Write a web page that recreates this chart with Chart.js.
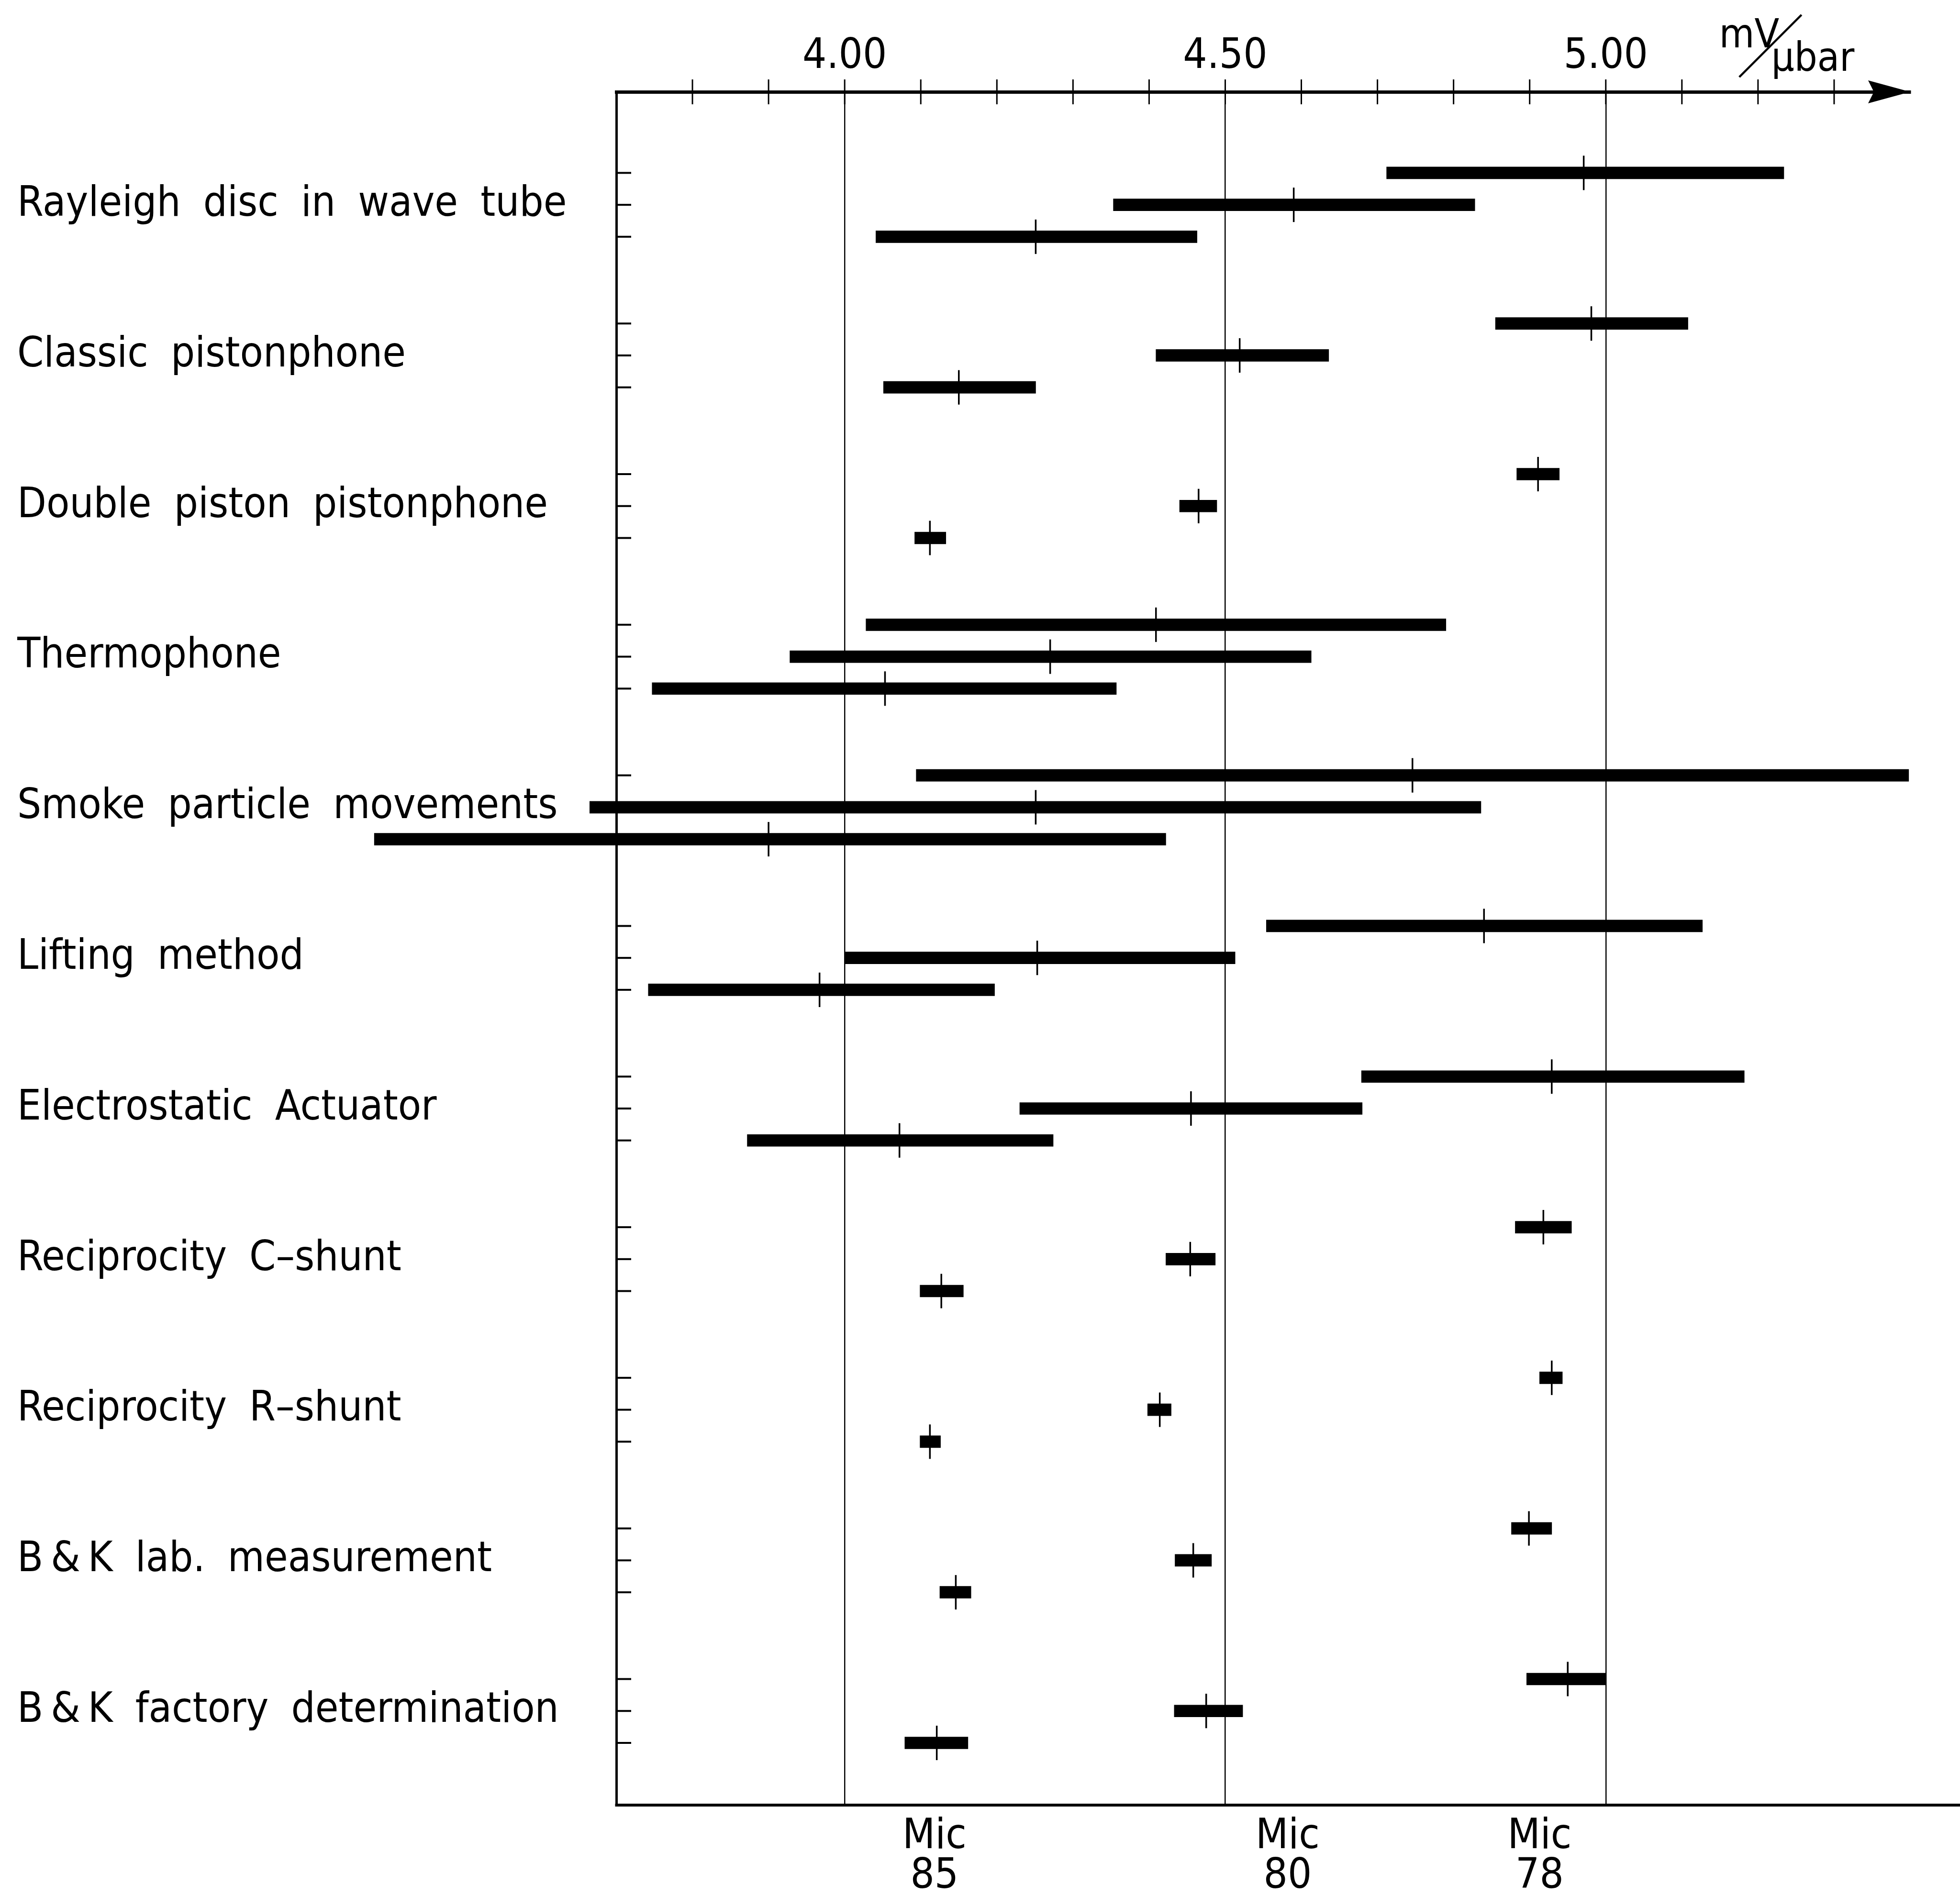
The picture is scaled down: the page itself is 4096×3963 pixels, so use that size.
<!DOCTYPE html>
<html><head><meta charset="utf-8">
<script src="https://cdn.jsdelivr.net/npm/chart.js@4.4.1/dist/chart.umd.min.js"></script>
<style>html,body{margin:0;padding:0;background:#fff;} #wrap{width:4096px;height:3963px;position:relative;}</style>
</head><body><div id="wrap"><canvas id="c"></canvas></div>
<script>
// ---- data ----
const categories = [
  'Rayleigh disc in wave tube',
  'Classic pistonphone',
  'Double piston pistonphone',
  'Thermophone',
  'Smoke particle movements',
  'Lifting method',
  'Electrostatic Actuator',
  'Reciprocity C–shunt',
  'Reciprocity R–shunt',
  'B\u2009&\u2009K lab. measurement',
  'B\u2009&\u2009K factory determination'
];
// Mic 78 (upper row of each method)
const mic78Low   = [4.712, 4.855, 4.883, 4.028, 4.094, 4.554, 4.679, 4.881, 4.913, 4.876, 4.896];
const mic78High  = [5.234, 5.108, 4.939, 4.790, 5.398, 5.127, 5.182, 4.955, 4.943, 4.929, 5.000];
const mic78Value = [4.971, 4.981, 4.911, 4.409, 4.746, 4.840, 4.929, 4.918, 4.929, 4.899, 4.950];
// Mic 80 (middle row)
const mic80Low   = [4.353, 4.409, 4.440, 3.928, 3.665, 4.000, 4.230, 4.422, 4.398, 4.434, 4.433];
const mic80High  = [4.828, 4.636, 4.489, 4.613, 4.836, 4.513, 4.680, 4.487, 4.429, 4.482, 4.523];
const mic80Value = [4.590, 4.519, 4.465, 4.270, 4.251, 4.253, 4.455, 4.454, 4.414, 4.458, 4.475];
// Mic 85 (lower row)
const mic85Low   = [4.041, 4.051, 4.092, 3.747, 3.382, 3.742, 3.872, 4.099, 4.099, 4.125, 4.079];
const mic85High  = [4.463, 4.251, 4.133, 4.357, 4.422, 4.197, 4.274, 4.156, 4.126, 4.166, 4.162];
const mic85Value = [4.251, 4.150, 4.112, 4.053, 3.900, 3.967, 4.072, 4.127, 4.112, 4.146, 4.121];

const micNames   = [['Mic', '85'], ['Mic', '80'], ['Mic', '78']];
const micLabelAt = [4.118, 4.582, 4.913];
const xTickValues = [3.8, 3.9, 4.0, 4.1, 4.2, 4.3, 4.4, 4.5, 4.6, 4.7, 4.8, 4.9, 5.0, 5.1, 5.2, 5.3];
const xTickLabelValues = [4.0, 4.5, 5.0];
const xTickLabels = ['4.00', '4.50', '5.00'];
const unitTop = 'mV';
const unitBottom = 'μbar';

// ---- layout / style ----
const ROW = 0.212;
const FONT = "'DejaVu Sans Condensed', 'DejaVu Sans', sans-serif";
const AREA = {left: 1288, right: 3992, top: 192, bottom: 3773};
const W = 4096, H = 3963;
const PAD_LEFT = 36;

const rowValues = [];
categories.forEach((c, i) => { rowValues.push(i - ROW, i, i + ROW); });

function barData(lo, hi, off) { return categories.map((c, i) => ({y: i + off, x: [lo[i], hi[i]]})); }
function pointData(v, off) { return categories.map((c, i) => ({x: v[i], y: i + off})); }

const barStyle = {type: 'bar', indexAxis: 'y', xAxisID: 'x', yAxisID: 'y', backgroundColor: '#000',
  borderWidth: 0, barThickness: 25, grouped: false, clip: false};
const markStyle = {type: 'scatter', xAxisID: 'x', yAxisID: 'y', pointStyle: 'line', rotation: 90,
  pointRadius: 36, borderWidth: 3.5, borderColor: '#000', backgroundColor: '#000', showLine: false, clip: false};

const isMajor = v => xTickLabelValues.some(t => Math.abs(t - v) < 1e-6);

const decor = {
  id: 'decor',
  beforeDraw(chart) {
    chart.ctx.wordSpacing = '22px';
  },
  afterDraw(chart) {
    const ctx = chart.ctx, xs = chart.scales.x, ys = chart.scales.y, a = chart.chartArea;
    ctx.save();
    ctx.strokeStyle = '#000'; ctx.fillStyle = '#000';
    // top axis tick marks crossing the axis line
    ctx.lineWidth = 3;
    xTickValues.forEach(v => {
      const px = xs.getPixelForValue(v);
      ctx.beginPath(); ctx.moveTo(px, a.top - 26); ctx.lineTo(px, a.top + 26); ctx.stroke();
    });
    // left axis tick marks pointing inward
    ctx.lineWidth = 4;
    rowValues.forEach(v => {
      const py = ys.getPixelForValue(v);
      ctx.beginPath(); ctx.moveTo(a.left, py); ctx.lineTo(a.left + 31, py); ctx.stroke();
    });
    // bottom base line running to the page edge
    ctx.lineWidth = 6;
    ctx.beginPath(); ctx.moveTo(a.left - 2.5, a.bottom); ctx.lineTo(chart.width, a.bottom); ctx.stroke();
    // arrow head at the end of the top axis
    const tip = xs.getPixelForValue(xs.max);
    ctx.beginPath();
    ctx.moveTo(tip, a.top);
    ctx.lineTo(tip - 88, a.top - 24);
    ctx.lineTo(tip - 76, a.top);
    ctx.lineTo(tip - 88, a.top + 24);
    ctx.closePath(); ctx.fill();
    // unit label  mV / μbar
    ctx.font = '84px ' + FONT;
    ctx.textBaseline = 'alphabetic'; ctx.textAlign = 'left';
    const ux = xs.getPixelForValue(5.149);
    ctx.fillText(unitTop, ux, a.top - 93);
    ctx.fillText(unitBottom, ux + 109, a.top - 44);
    ctx.lineWidth = 4.5;
    ctx.beginPath(); ctx.moveTo(ux + 42, a.top - 31); ctx.lineTo(ux + 172, a.top - 161); ctx.stroke();
    ctx.restore();
  }
};

new Chart(document.getElementById('c'), {
  type: 'bar',
  data: {
    datasets: [
      Object.assign({label: 'Mic 78', data: barData(mic78Low, mic78High, -ROW)}, barStyle),
      Object.assign({label: 'Mic 80', data: barData(mic80Low, mic80High, 0)}, barStyle),
      Object.assign({label: 'Mic 85', data: barData(mic85Low, mic85High, ROW)}, barStyle),
      Object.assign({label: 'Mic 78 value', data: pointData(mic78Value, -ROW)}, markStyle),
      Object.assign({label: 'Mic 80 value', data: pointData(mic80Value, 0)}, markStyle),
      Object.assign({label: 'Mic 85 value', data: pointData(mic85Value, ROW)}, markStyle)
    ]
  },
  options: {
    responsive: true, maintainAspectRatio: false, animation: false, events: [],
    devicePixelRatio: 1,
    layout: {padding: {left: PAD_LEFT, right: W - AREA.right, top: 0, bottom: 0}},
    plugins: {legend: {display: false}, tooltip: {enabled: false}},
    scales: {
      x: {
        type: 'linear', position: 'top', min: 3.7, max: 5.4, offset: false,
        afterBuildTicks: s => { s.ticks = xTickValues.map(v => ({value: v})); },
        afterFit: s => { s.height = AREA.top; },
        ticks: {autoSkip: false, maxRotation: 0, minRotation: 0, padding: 20, color: '#000',
          font: {family: FONT, size: 88},
          callback: v => { const k = xTickLabelValues.findIndex(t => Math.abs(t - v) < 1e-6); return k >= 0 ? xTickLabels[k] : ''; }},
        grid: {offset: false, drawTicks: false, lineWidth: 2.5,
          color: c => (c.tick && isMajor(c.tick.value)) ? '#000' : 'rgba(0,0,0,0)'},
        border: {display: true, color: '#000', width: 7}
      },
      xb: {
        type: 'linear', position: 'bottom', min: 3.7, max: 5.4, offset: false,
        afterBuildTicks: s => { s.ticks = micLabelAt.map(v => ({value: v})); },
        afterFit: s => { s.height = H - AREA.bottom; },
        ticks: {autoSkip: false, maxRotation: 0, minRotation: 0, padding: 26, color: '#000',
          font: {family: FONT, size: 88, lineHeight: 0.943},
          callback: (v, i) => micNames[i]},
        grid: {offset: false, display: false, drawTicks: false},
        border: {display: false}
      },
      y: {
        type: 'linear', position: 'left', reverse: true, min: -0.75, max: 10.625, offset: false,
        afterBuildTicks: s => { s.ticks = rowValues.map(v => ({value: v})); },
        afterFit: s => { s.width = AREA.left - PAD_LEFT; },
        ticks: {autoSkip: false, crossAlign: 'far', color: '#000', font: {family: FONT, size: 88},
          callback: (v, i) => (i % 3 === 1 ? categories[(i - 1) / 3] : '')},
        grid: {offset: false, display: false, drawTicks: false},
        border: {display: true, color: '#000', width: 5}
      }
    }
  },
  plugins: [decor]
});
</script></body></html>
